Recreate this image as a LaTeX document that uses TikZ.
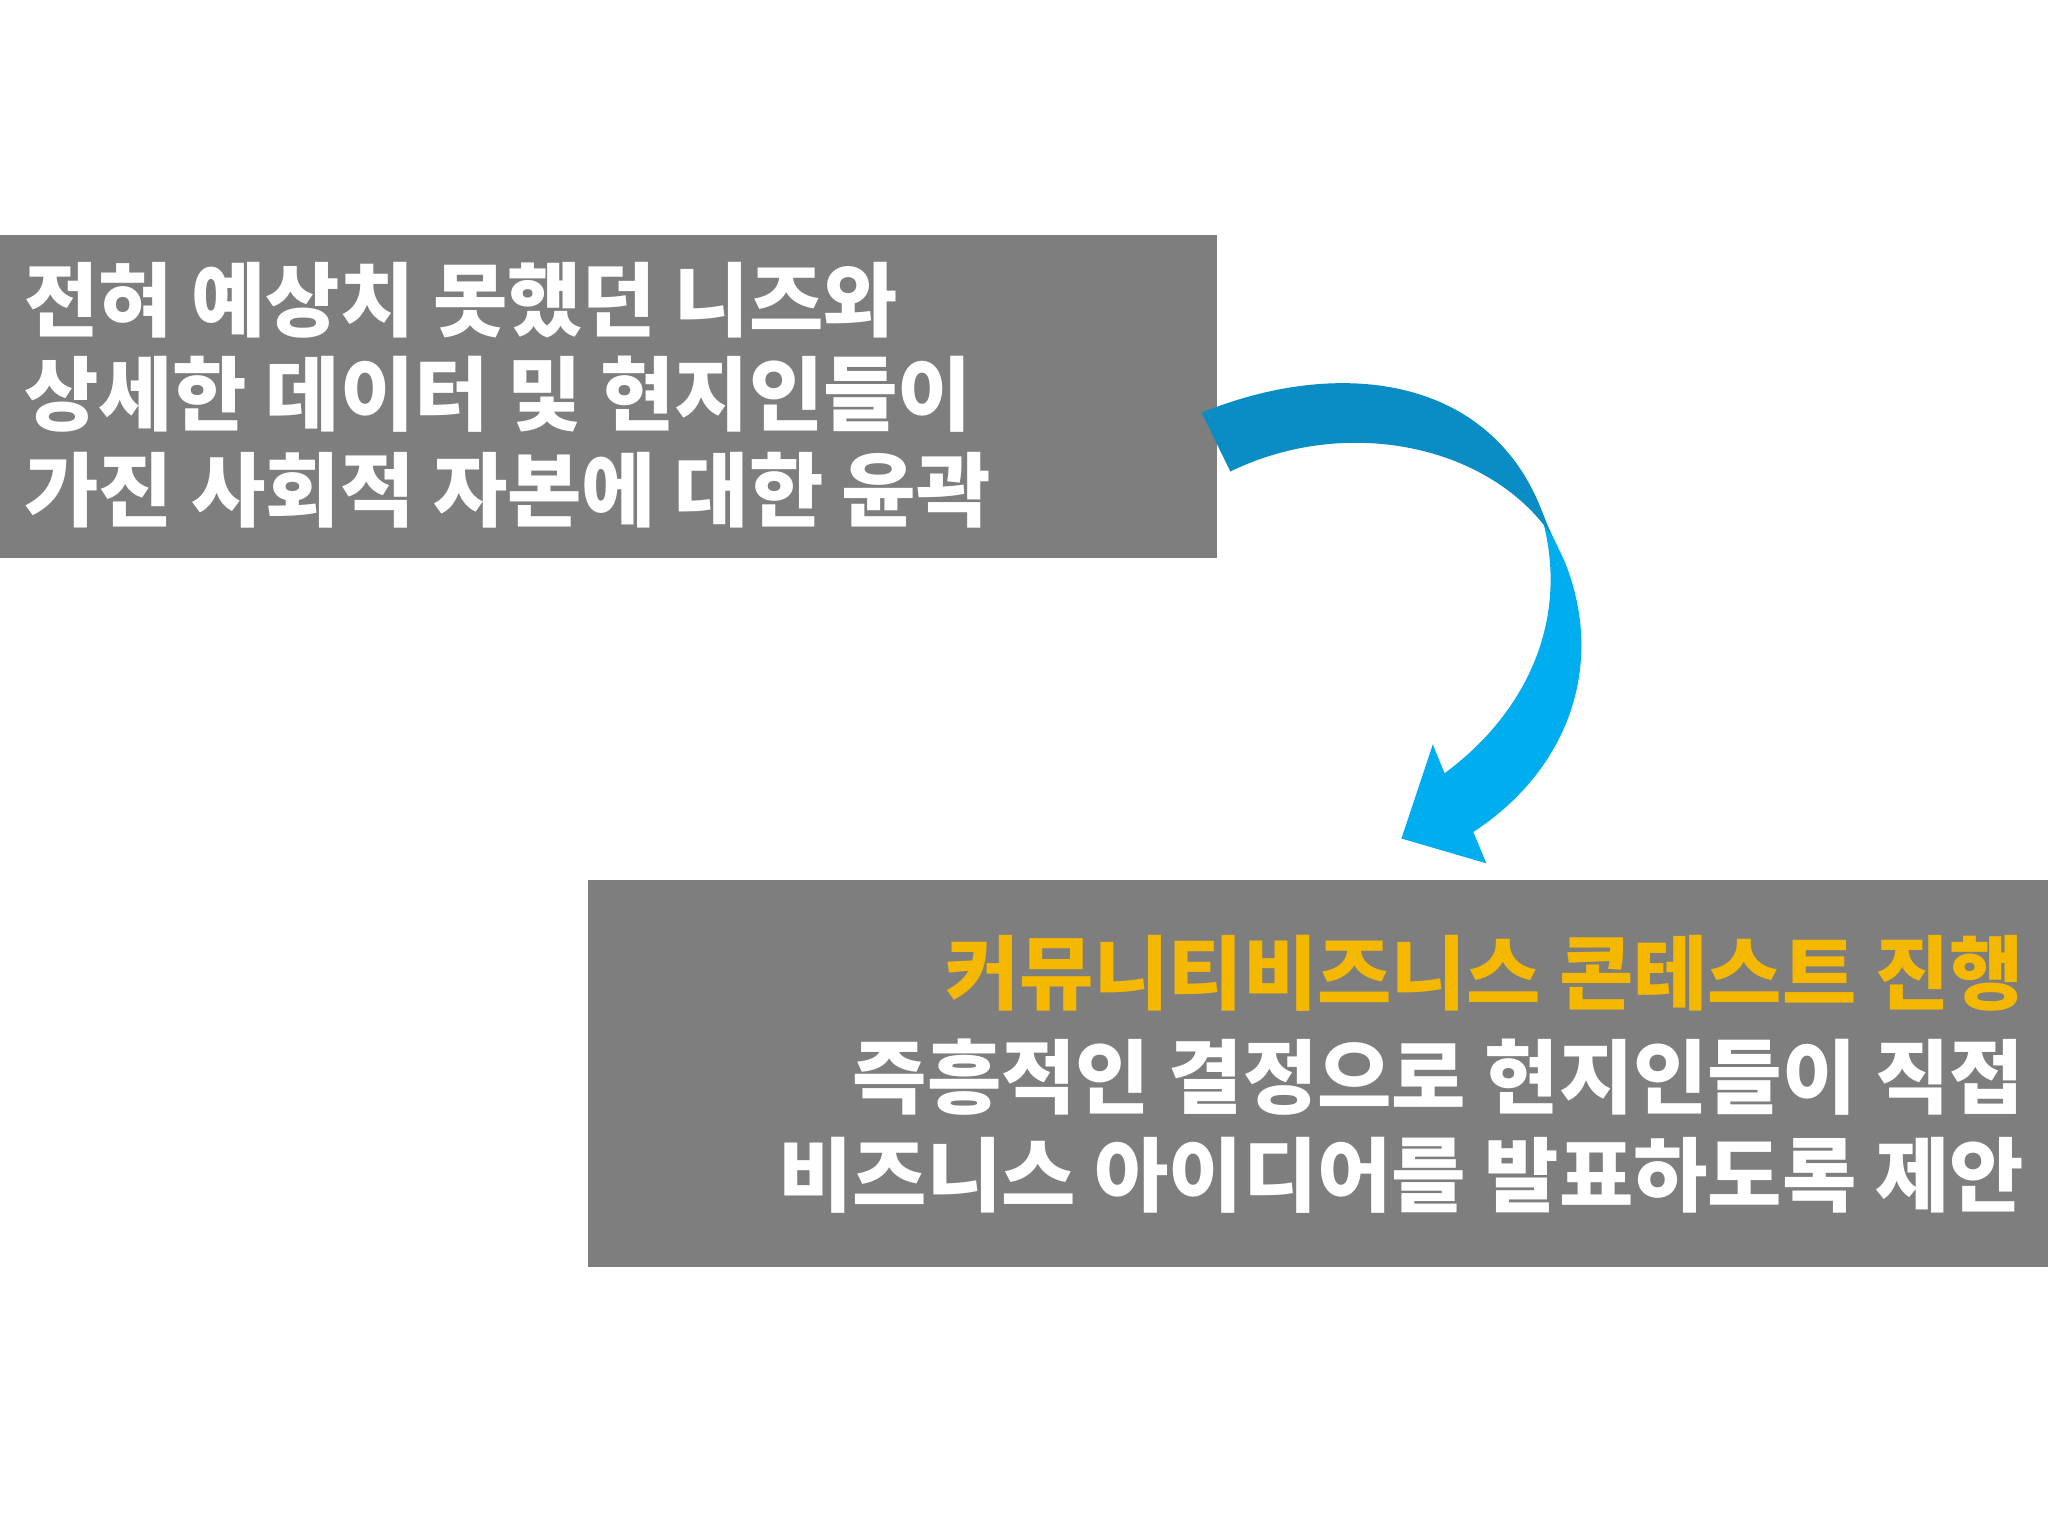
\documentclass[tikz,border=0pt]{standalone}
\usepackage{fontspec}
\setmainfont{Noto Sans CJK KR}
\begin{document}
\begin{tikzpicture}[x=0.01306cm,y=-0.01306cm,
  box/.style={fill=boxgray,draw=none},
  txt/.style={font=\fontsize{23}{33}\selectfont\bfseries,text=white,inner sep=0pt}]
\definecolor{boxgray}{HTML}{7F7E7F}
\definecolor{gold}{HTML}{F5B800}
\definecolor{blueA}{HTML}{0A8CC4}
\definecolor{blueB}{HTML}{00AEEF}
\useasboundingbox (0,0) rectangle (1568,1176);
\fill[white] (0,0) rectangle (1568,1176);
\fill[boxgray] (0,180) rectangle (932,427);
\fill[boxgray] (450,674) rectangle (1568,970);
\node[txt,anchor=west] (t1) at (18,230) {전혀 예상치 못했던 니즈와};
\node[txt,anchor=west] (t2) at (18,302) {상세한 데이터 및 현지인들이};
\node[txt,anchor=west] (t3) at (18,375) {가진 사회적 자본에 대한 윤곽};
\node[txt,anchor=east,text=gold] (b1) at (1550,745) {커뮤니티비즈니스 콘테스트 진행};
\node[txt,anchor=east] (b2) at (1550,825) {즉흥적인 결정으로 현지인들이 직접};
\node[txt,anchor=east] (b3) at (1550,900) {비즈니스 아이디어를 발표하도록 제안};
\fill[blueB] (1178,388) -- (1198,430) .. controls (1230,510) and (1200,590) .. (1128,637) -- (1138,661) -- (1073,642) -- (1097,570) -- (1106,592) .. controls (1170,545) and (1205,470) .. (1178,388) -- cycle;
\fill[blueA] (920,316) .. controls (1020,275) and (1135,285) .. (1178,385) -- (1188,410) .. controls (1140,340) and (1030,318) .. (942,361) -- cycle;
\end{tikzpicture}
\end{document}
